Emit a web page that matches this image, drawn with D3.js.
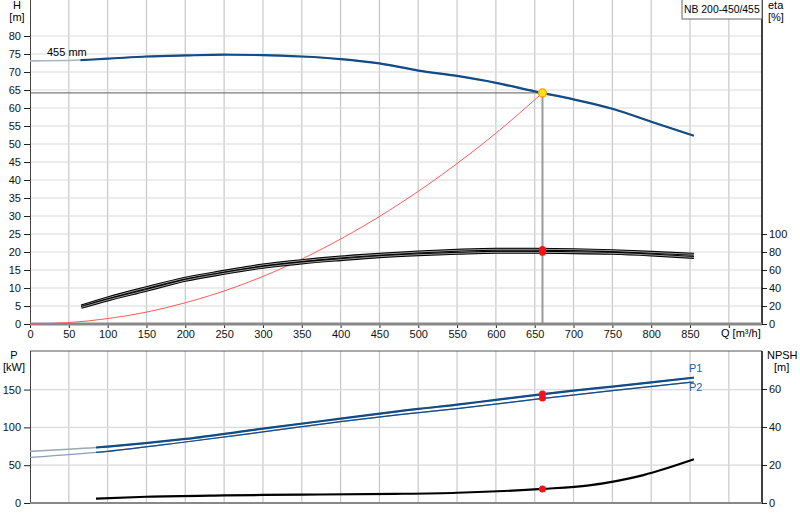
<!DOCTYPE html>
<html>
<head>
<meta charset="UTF-8">
<title>NB 200-450/455</title>
<script src="https://cdn.jsdelivr.net/npm/d3@7/dist/d3.min.js"></script>
<style>
  body { margin: 0; background: #fff; }
  svg { display: block; font-family: "Liberation Sans", Arial, sans-serif; font-size: 11px; }
  .grid-v { stroke: #c8c8c8; stroke-width: 1.2; }
  .grid-h { stroke: #dadada; stroke-width: 1.2; }
  .tick line { stroke: #222; }
  .tick text { fill: #111; font-size: 11px; }
</style>
</head>
<body>
<svg width="800" height="520"></svg>
<script>
// Q axis (shared)
const qTicks = [0, 50, 100, 150, 200, 250, 300, 350, 400, 450, 500, 550, 600, 650, 700, 750, 800, 850];
const hTicks = [0, 5, 10, 15, 20, 25, 30, 35, 40, 45, 50, 55, 60, 65, 70, 75, 80];
const etaTicks = [0, 20, 40, 60, 80, 100];
const pTicks = [0, 50, 100, 150];
const npshTicks = [0, 20, 40, 60];

// H curve (455 mm impeller)
const hQ = [0, 50, 100, 150, 200, 250, 300, 350, 400, 450, 500, 550, 600, 650, 700, 750, 800, 855];
const hH = [73.1, 73.2, 73.7, 74.3, 74.6, 74.8, 74.7, 74.3, 73.6, 72.4, 70.4, 68.9, 67.0, 64.6, 62.4, 59.8, 56.2, 52.3];

// system curve
const sysQ = [0, 50, 100, 150, 200, 265, 330, 400, 460, 530, 600, 660];
const sysH = [0, 0.4, 1.5, 3.3, 5.9, 10.3, 16, 23.6, 31.2, 41.4, 53, 64.2];

// efficiency curves
const etaQ = [66, 100, 150, 200, 250, 300, 350, 400, 450, 500, 550, 600, 650, 700, 750, 800, 855];
const eta1 = [20, 29, 40.4, 51, 58.5, 65.6, 70.4, 74.4, 77.4, 80, 81.9, 83, 83, 82.6, 81.5, 79.6, 77.4];
const eta2 = [18.5, 26.7, 37.4, 48.5, 56.3, 63, 67.8, 71.5, 74.8, 77, 78.5, 79.6, 79.6, 79.3, 78.5, 76.7, 74];

// power curves
const p1Q = [0, 85, 100, 200, 300, 400, 476, 500, 550, 600, 650, 700, 750, 800, 855];
const p1 = [68.3, 73.4, 74.6, 84.7, 98.3, 111.5, 121.5, 124.5, 130, 136.4, 142.6, 148.6, 154, 159.5, 165.8];
const p2Q = [0, 100, 200, 300, 400, 476, 550, 650, 750, 855];
const p2 = [60.4, 68.3, 80.7, 94, 107.6, 116.8, 124.7, 137, 148.6, 160];

// NPSH curve
const npshQ = [85, 150, 250, 350, 470, 550, 660, 720, 790, 855];
const npsh = [2.3, 3.3, 4.0, 4.4, 4.8, 5.4, 7.4, 9.3, 14.7, 23];

// duty point
const dutyQ = 660, dutyH = 64.2, dutyEta = [82.8, 79.6], dutyP = [144, 139], dutyNpsh = 7.4;

const svg = d3.select('svg');
const left = 30, right = 762;

const x = d3.scaleLinear().domain([0, 942.7]).range([left, right]);
const yH = d3.scaleLinear().domain([0, 90]).range([324, 0]);
const yEta = d3.scaleLinear().domain([0, 100]).range([324, 234]);
const yP = d3.scaleLinear().domain([0, 201]).range([503, 351]);
const yN = d3.scaleLinear().domain([0, 80]).range([503, 351]);

const gridQ = d3.range(50, 901, 50);

// clip paths to draw the part left of the working range lighter
const defs = svg.append('defs');
defs.append('clipPath').attr('id', 'clipH').append('rect')
  .attr('x', x(65)).attr('y', 0).attr('width', 800).attr('height', 340);
defs.append('clipPath').attr('id', 'clipP').append('rect')
  .attr('x', x(85)).attr('y', 340).attr('width', 800).attr('height', 180);

// ---------- top panel ----------
const gTop = svg.append('g');
gTop.selectAll('.gv').data(gridQ).join('line').attr('class', 'grid-v')
  .attr('x1', d => x(d)).attr('x2', d => x(d)).attr('y1', 0).attr('y2', 324);
gTop.selectAll('.gh').data(hTicks.slice(1)).join('line').attr('class', 'grid-h')
  .attr('x1', left).attr('x2', right).attr('y1', d => yH(d)).attr('y2', d => yH(d));

// duty point guide lines
gTop.append('line').attr('x1', left).attr('x2', x(dutyQ)).attr('y1', yH(dutyH)).attr('y2', yH(dutyH))
  .attr('stroke', '#7a7a7a').attr('stroke-width', 1.3);
gTop.append('line').attr('x1', x(dutyQ)).attr('x2', x(dutyQ)).attr('y1', yH(dutyH)).attr('y2', 324)
  .attr('stroke', '#9a9a9a').attr('stroke-width', 2);

// axes
const axL = gTop.append('g').attr('transform', `translate(${left},0)`)
  .call(d3.axisLeft(yH).tickValues(hTicks).tickSize(6).tickPadding(3));
axL.select('.domain').remove();
gTop.append('line').attr('x1', left + 0.5).attr('x2', left + 0.5).attr('y1', 0).attr('y2', 324).attr('stroke', '#444');

const axR = gTop.append('g').attr('transform', `translate(${right},0)`)
  .call(d3.axisRight(yEta).tickValues(etaTicks).tickSize(5).tickPadding(2));
axR.select('.domain').remove();
gTop.append('line').attr('x1', right).attr('x2', right).attr('y1', 0).attr('y2', 325).attr('stroke', '#000').attr('stroke-width', 1.5);

const axB = gTop.append('g').attr('transform', 'translate(0,324)')
  .call(d3.axisBottom(x).tickValues(qTicks.concat([900])).tickFormat(d => d === 900 ? '' : d).tickSize(4).tickPadding(2));
axB.select('.domain').remove();
axB.selectAll('.tick line').attr('stroke', '#666');
gTop.append('line').attr('x1', left).attr('x2', right).attr('y1', 324).attr('y2', 324)
  .attr('stroke', '#888').attr('stroke-width', 3);

// system curve
gTop.append('path').datum(sysQ.map((q, i) => [q, sysH[i]]))
  .attr('fill', 'none').attr('stroke', '#ff5a5a').attr('stroke-width', 1)
  .attr('d', d3.line().x(d => x(d[0])).y(d => yH(d[1])).curve(d3.curveMonotoneX));

// efficiency curves
const etaLine = d3.line().x(d => x(d[0])).y(d => yEta(d[1])).curve(d3.curveMonotoneX);
[eta1, eta2].forEach(s => {
  const pts = etaQ.map((q, i) => [q, s[i]]);
  gTop.append('path').datum(pts).attr('fill', 'none').attr('stroke', '#000')
    .attr('stroke-width', 3).attr('d', etaLine);
  gTop.append('path').datum(pts).attr('fill', 'none').attr('stroke', '#ddd')
    .attr('stroke-width', 0.7).attr('d', etaLine);
});

// H curve
const hPts = hQ.map((q, i) => [q, hH[i]]);
const hLine = d3.line().x(d => x(d[0])).y(d => yH(d[1])).curve(d3.curveMonotoneX);
gTop.append('path').datum(hPts).attr('fill', 'none').attr('stroke', '#a9b4c6')
  .attr('stroke-width', 1.6).attr('d', hLine);
gTop.append('path').datum(hPts).attr('fill', 'none').attr('stroke', '#134b86')
  .attr('stroke-width', 2.2).attr('clip-path', 'url(#clipH)').attr('d', hLine);

// duty point markers
gTop.selectAll('.de').data(dutyEta).join('circle')
  .attr('cx', x(dutyQ)).attr('cy', d => yEta(d)).attr('r', 3.5).attr('fill', '#ff1010');
gTop.append('circle').attr('cx', x(dutyQ)).attr('cy', yH(dutyH)).attr('r', 4)
  .attr('fill', '#ffe21a').attr('stroke', '#ff9a00').attr('stroke-width', 1.2);

// labels
gTop.append('text').attr('x', 47).attr('y', 56).text('455 mm');
gTop.append('text').attr('x', 17).attr('y', 9).attr('text-anchor', 'middle').text('H');
gTop.append('text').attr('x', 17).attr('y', 21).attr('text-anchor', 'middle').text('[m]');
gTop.append('text').attr('x', 768).attr('y', 9).text('eta');
gTop.append('text').attr('x', 768).attr('y', 21).text('[%]');
gTop.append('text').attr('x', 721).attr('y', 337).text('Q [m³/h]');
gTop.append('rect').attr('x', 682).attr('y', -1).attr('width', 80).attr('height', 20)
  .attr('fill', '#fff').attr('stroke', '#666');
gTop.append('text').attr('x', 684).attr('y', 13).style('font-size', '10.4px').text('NB 200-450/455');

// ---------- bottom panel ----------
const gBot = svg.append('g');
gBot.selectAll('.gv').data(gridQ).join('line').attr('class', 'grid-v')
  .attr('x1', d => x(d)).attr('x2', d => x(d)).attr('y1', 351).attr('y2', 503);
gBot.selectAll('.gh').data(pTicks.slice(1)).join('line').attr('class', 'grid-h')
  .attr('x1', left).attr('x2', right).attr('y1', d => yP(d)).attr('y2', d => yP(d));

const bl = gBot.append('g').attr('transform', `translate(${left},0)`)
  .call(d3.axisLeft(yP).tickValues(pTicks).tickSize(6).tickPadding(3));
bl.select('.domain').remove();
const br = gBot.append('g').attr('transform', `translate(${right},0)`)
  .call(d3.axisRight(yN).tickValues(npshTicks).tickSize(5).tickPadding(2));
br.select('.domain').remove();

gBot.append('line').attr('x1', left).attr('x2', right).attr('y1', 351).attr('y2', 351).attr('stroke', '#555');
gBot.append('line').attr('x1', left + 0.5).attr('x2', left + 0.5).attr('y1', 351).attr('y2', 503).attr('stroke', '#444');
gBot.append('line').attr('x1', right).attr('x2', right).attr('y1', 351).attr('y2', 504).attr('stroke', '#000').attr('stroke-width', 1.5);
gBot.append('line').attr('x1', left).attr('x2', right).attr('y1', 503).attr('y2', 503).attr('stroke', '#888').attr('stroke-width', 2);

const pLine = d3.line().x(d => x(d[0])).y(d => yP(d[1])).curve(d3.curveMonotoneX);
const p1Pts = p1Q.map((q, i) => [q, p1[i]]);
const p2Pts = p2Q.map((q, i) => [q, p2[i]]);
gBot.append('path').datum(p2Pts).attr('fill', 'none').attr('stroke', '#8d9cb6')
  .attr('stroke-width', 1.2).attr('d', pLine);
gBot.append('path').datum(p2Pts).attr('fill', 'none').attr('stroke', '#134b86')
  .attr('stroke-width', 1.2).attr('clip-path', 'url(#clipP)').attr('d', pLine);
gBot.append('path').datum(p1Pts).attr('fill', 'none').attr('stroke', '#9aa6bb')
  .attr('stroke-width', 1.6).attr('d', pLine);
gBot.append('path').datum(p1Pts).attr('fill', 'none').attr('stroke', '#134b86')
  .attr('stroke-width', 2.2).attr('clip-path', 'url(#clipP)').attr('d', pLine);

gBot.append('path').datum(npshQ.map((q, i) => [q, npsh[i]]))
  .attr('fill', 'none').attr('stroke', '#000').attr('stroke-width', 2.2)
  .attr('d', d3.line().x(d => x(d[0])).y(d => yN(d[1])).curve(d3.curveMonotoneX));

gBot.selectAll('.dp').data(dutyP).join('circle')
  .attr('cx', x(dutyQ)).attr('cy', d => yP(d)).attr('r', 3.5).attr('fill', '#ff1010');
gBot.append('circle').attr('cx', x(dutyQ)).attr('cy', yN(dutyNpsh)).attr('r', 3.5).attr('fill', '#ff1010');

gBot.append('text').attr('x', 14).attr('y', 359).attr('text-anchor', 'middle').text('P');
gBot.append('text').attr('x', 14).attr('y', 371).attr('text-anchor', 'middle').text('[kW]');
gBot.append('text').attr('x', 767).attr('y', 359).text('NPSH');
gBot.append('text').attr('x', 774).attr('y', 371).text('[m]');
gBot.append('text').attr('x', 689).attr('y', 372).attr('fill', '#1d5fa8').text('P1');
gBot.append('text').attr('x', 689).attr('y', 391).attr('fill', '#1d5fa8').text('P2');
</script>
</body>
</html>
